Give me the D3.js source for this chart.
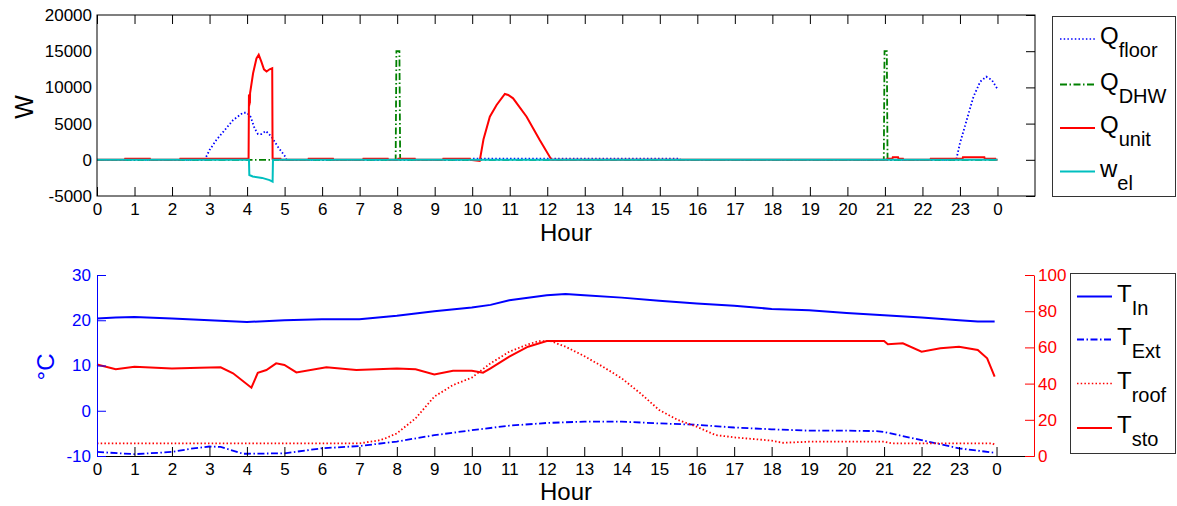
<!DOCTYPE html>
<html>
<head>
<meta charset="utf-8">
<script src="https://cdn.jsdelivr.net/npm/d3@7"></script>
<style>
  body { margin: 0; background: #fff; }
  svg { display: block; font-family: Arial, "Liberation Sans", sans-serif; }
</style>
</head>
<body>
<svg id="chart" width="1177" height="506"></svg>
<script>
// hour ticks (0..24, labelled modulo 24)
const hours = d3.range(0, 25);

// top panel: power [hour, W]
const qFloor = [[0,0],[2.87,0],[3.0,1350],[3.18,2730],[3.37,3900],[3.63,5500],[3.89,6500],[4.0,6500],[4.1,5870],[4.2,4350],[4.29,3560],[4.38,3560],[4.5,3980],[4.65,3190],[4.83,1730],[5.03,350],[5.05,0],
  [9.97,0],[9.98,150],[15.54,150],[15.55,0],[22.9,0],[23.0,2280],[23.18,5500],[23.36,8720],[23.54,10790],[23.7,11480],[23.85,11020],[24.0,9780]];
const qDHW = [[0,0],[7.96,0],[7.98,15000],[8.06,15000],[8.08,0],[20.97,0],[20.99,15000],[21.05,15000],[21.07,0],[24,0]];
const qUnit = [[0,0],[0.74,0],[0.75,150],[1.41,150],[1.42,0],[2.21,0],[2.22,150],[4.04,150],
  [4.05,9000],[4.055,7400],[4.06,9000],[4.065,7600],[4.07,9100],[4.075,7800],[4.08,9200],[4.16,11950],[4.25,14000],[4.31,14500],[4.38,13550],[4.45,12500],[4.52,12200],[4.6,12500],[4.67,12650],[4.68,150],[4.89,150],[4.9,0],
  [5.63,0],[5.64,150],[6.29,150],[6.3,0],[7.09,0],[7.1,150],[7.75,150],[7.76,0],[8.02,0],[8.03,150],[8.47,150],[8.48,0],[9.22,0],[9.23,150],[9.94,150],[9.95,0],
  [10.2,-150],[10.3,2800],[10.47,5950],[10.65,7570],[10.87,9090],[10.96,8950],[11.09,8490],[11.45,5950],[11.8,2730],[12.09,200],[12.1,0],
  [21.06,0],[21.07,150],[21.2,150],[21.21,350],[21.35,350],[21.36,150],[21.48,150],[21.49,0],
  [22.21,0],[22.22,150],[23.07,150],[23.08,350],[23.65,350],[23.66,150],[23.94,150],[23.95,0],[24,0]];
const wEl = [[0,0],[4.05,0],[4.06,-2100],[4.15,-2300],[4.4,-2500],[4.6,-2800],[4.68,-3020],[4.69,0],[24,0]];
const powerTicks = [-5000, 0, 5000, 10000, 15000, 20000];

// bottom panel: temperatures [hour, value]
const tIn = [[0,20.4],[0.5,20.6],[1,20.7],[2,20.4],[3,20.0],[4,19.6],[5,20.0],[6,20.2],[7,20.2],[8,21.0],[9,22.0],[10,22.8],[10.5,23.4],[11,24.4],[12,25.5],[12.5,25.8],[13,25.5],[14,25.0],[15,24.3],[16,23.7],[17,23.2],[18,22.5],[19,22.2],[20,21.6],[21,21.1],[22,20.6],[23,20.0],[23.5,19.7],[23.95,19.7]];
const tExt = [[0,-9.1],[1,-9.6],[2,-9.1],[2.5,-8.4],[3,-7.9],[3.3,-8.0],[3.9,-9.5],[4,-9.5],[5,-9.4],[6,-8.3],[7,-7.8],[8,-6.8],[9,-5.4],[10,-4.3],[11,-3.3],[12,-2.7],[13,-2.4],[14,-2.4],[15,-2.8],[16,-3.1],[17,-3.7],[18,-4.1],[19,-4.4],[20,-4.4],[20.8,-4.5],[21,-4.7],[22,-6.5],[23,-8.3],[23.95,-9.3]];
const tRoof = [[0,7],[7,7],[7.5,8.5],[7.7,9.8],[8,12.5],[8.5,20.8],[9,32.8],[9.5,39.2],[10,43.3],[10.5,51.2],[11,57.6],[11.5,61.7],[11.8,63.5],[12.1,63.5],[12.5,60.4],[13,55.2],[13.5,49.3],[14,42.9],[14.5,34.6],[15,25.4],[15.5,19.9],[16,16.2],[16.5,11.6],[17,10.3],[17.5,9.4],[18,8.5],[18.3,7.3],[19,7.9],[21,7.9],[21.2,7],[23.9,7],[23.95,6.1]];
const tSto = [[0,50.6],[0.5,47.9],[1,49.3],[2,48.4],[2.74,48.8],[3.3,49],[3.63,45.7],[4.12,37.7],[4.29,46],[4.52,47.5],[4.78,51.2],[5,50.3],[5.32,46.2],[6.12,49],[6.92,47.5],[8,48.4],[8.5,47.9],[9,45.1],[9.5,47.1],[10,47.1],[10.3,46],[10.5,48.4],[11,54.9],[11.5,60.4],[12,63.5],[21,63.5],[21.1,61.7],[21.5,62.3],[22,57.6],[22.5,59.5],[23,60.4],[23.5,58.6],[23.75,54],[23.95,43.8]];
const celsiusTicks = [-10, 0, 10, 20, 30];
const storeTicks = [0, 20, 40, 60, 80, 100];

const svg = d3.select("#chart");
const fmtHour = (h) => h % 24;
const fmtPlain = (v) => String(v);

// ---------- top panel ----------
const xTop = d3.scaleLinear([0, 25], [97, 1035]);
const yTop = d3.scaleLinear([-5000, 20000], [196, 15]);
const topG = svg.append("g");

const lineTop = d3.line().x((d) => xTop(d[0])).y((d) => yTop(d[1]));
const topSeries = [
  { data: qFloor, color: "#0000ff", dash: "1.5,2.2", width: 1.8 },
  { data: qDHW, color: "#008000", dash: "7,2.5,1.5,2.5", width: 1.8 },
  { data: qUnit, color: "#ff0000", dash: null, width: 2 },
  { data: wEl, color: "#00bfbf", dash: null, width: 2 },
];
topSeries.forEach((s) => {
  topG.append("path").attr("d", lineTop(s.data)).attr("fill", "none")
    .attr("stroke", s.color).attr("stroke-width", s.width)
    .attr("stroke-dasharray", s.dash);
});

topG.append("rect").attr("x", 97).attr("y", 15).attr("width", 938).attr("height", 181)
  .attr("fill", "none").attr("stroke", "#000").attr("stroke-width", 1);

const axB = topG.append("g").attr("transform", "translate(0,196)")
  .call(d3.axisBottom(xTop).tickValues(hours).tickFormat(fmtHour).tickSizeInner(-9).tickSizeOuter(0).tickPadding(7));
const axT = topG.append("g").attr("transform", "translate(0,15)")
  .call(d3.axisTop(xTop).tickValues(hours).tickFormat("").tickSizeInner(-9).tickSizeOuter(0));
const axL = topG.append("g").attr("transform", "translate(97,0)")
  .call(d3.axisLeft(yTop).tickValues(powerTicks).tickFormat(fmtPlain).tickSize(0).tickPadding(5));
const axR = topG.append("g").attr("transform", "translate(1035,0)")
  .call(d3.axisRight(yTop).tickValues(powerTicks).tickFormat("").tickSizeInner(-9).tickSizeOuter(0));
[axB, axT, axL, axR].forEach((g) => {
  g.attr("font-family", null);
  g.select(".domain").remove();
  g.selectAll("text").attr("font-size", 17).attr("fill", "#000");
  g.selectAll("line").attr("stroke", "#000");
});

topG.append("text").attr("x", 566).attr("y", 241).attr("text-anchor", "middle")
  .attr("font-size", 24).text("Hour");
topG.append("text").attr("transform", "translate(33,107) rotate(-90)").attr("text-anchor", "middle")
  .attr("font-size", 25).text("W");

// ---------- bottom panel ----------
const xBot = d3.scaleLinear([0, 25], [97, 1034]);
const yLeft = d3.scaleLinear([-10, 30], [456, 275]);
const yRight = d3.scaleLinear([0, 100], [456, 275]);
const botG = svg.append("g");

const lineL = d3.line().x((d) => xBot(d[0])).y((d) => yLeft(d[1]));
const lineR = d3.line().x((d) => xBot(d[0])).y((d) => yRight(d[1]));
const botSeries = [
  { data: tIn, gen: lineL, color: "#0000ff", dash: null, width: 2 },
  { data: tExt, gen: lineL, color: "#0000ff", dash: "7,2.5,1.5,2.5", width: 1.8 },
  { data: tSto, gen: lineR, color: "#ff0000", dash: null, width: 2 },
  { data: tRoof, gen: lineR, color: "#ff0000", dash: "1.5,2.2", width: 1.8 },
];
botSeries.forEach((s) => {
  botG.append("path").attr("d", s.gen(s.data)).attr("fill", "none")
    .attr("stroke", s.color).attr("stroke-width", s.width)
    .attr("stroke-dasharray", s.dash);
});

const bAx = botG.append("g").attr("transform", "translate(0,456)")
  .call(d3.axisBottom(xBot).tickValues(hours).tickFormat(fmtHour).tickSizeInner(-9).tickSizeOuter(0).tickPadding(7));
bAx.select(".domain").attr("stroke", "#000");
bAx.selectAll("line").attr("stroke", "#000");
bAx.selectAll("text").attr("font-size", 17).attr("fill", "#000");

const lAx = botG.append("g").attr("transform", "translate(97,0)").attr("color", "#0000ff")
  .call(d3.axisLeft(yLeft).tickValues(celsiusTicks).tickFormat(fmtPlain).tickSizeInner(-9).tickSizeOuter(0).tickPadding(6));
lAx.selectAll("text").attr("font-size", 17);

const rAx = botG.append("g").attr("transform", "translate(1034,0)").attr("color", "#ff0000")
  .call(d3.axisRight(yRight).tickValues(storeTicks).tickFormat(fmtPlain).tickSizeInner(-9).tickSizeOuter(0).tickPadding(4));
rAx.selectAll("text").attr("font-size", 17);
[bAx, lAx, rAx].forEach((g) => g.attr("font-family", null));

botG.append("text").attr("x", 566).attr("y", 500).attr("text-anchor", "middle")
  .attr("font-size", 24).text("Hour");
botG.append("text").attr("transform", "translate(54,367) rotate(-90)").attr("text-anchor", "middle")
  .attr("font-size", 24).attr("fill", "#0000ff").text("°C");

// ---------- legends ----------
function legend(x0, y0, w, h, lineX, rows) {
  const g = svg.append("g");
  g.append("rect").attr("x", x0).attr("y", y0).attr("width", w).attr("height", h)
    .attr("fill", "#fff").attr("stroke", "#333").attr("stroke-width", 1);
  rows.forEach((r) => {
    g.append("line").attr("x1", lineX[0]).attr("x2", lineX[1]).attr("y1", r.y).attr("y2", r.y)
      .attr("stroke", r.color).attr("stroke-width", r.dash === "1.5,2.2" ? 1.6 : 2)
      .attr("stroke-dasharray", r.dash);
    const t = g.append("text").attr("x", lineX[1] + 5).attr("y", r.y + 5).attr("font-size", 24);
    t.append("tspan").text(r.main);
    t.append("tspan").attr("font-size", 20).attr("dy", 13).text(r.sub);
  });
}

legend(1052.5, 16.5, 123, 180, [1060, 1095], [
  { y: 39, main: "Q", sub: "floor", color: "#0000ff", dash: "1.5,2.2" },
  { y: 84.5, main: "Q", sub: "DHW", color: "#008000", dash: "7,2.5,1.5,2.5" },
  { y: 128, main: "Q", sub: "unit", color: "#ff0000", dash: null },
  { y: 171.5, main: "w", sub: "el", color: "#00bfbf", dash: null },
]);
legend(1070.5, 273.5, 105, 180, [1077, 1112], [
  { y: 296.5, main: "T", sub: "In", color: "#0000ff", dash: null },
  { y: 339.5, main: "T", sub: "Ext", color: "#0000ff", dash: "7,2.5,1.5,2.5" },
  { y: 383.5, main: "T", sub: "roof", color: "#ff0000", dash: "1.5,2.2" },
  { y: 428, main: "T", sub: "sto", color: "#ff0000", dash: null },
]);
</script>
</body>
</html>
